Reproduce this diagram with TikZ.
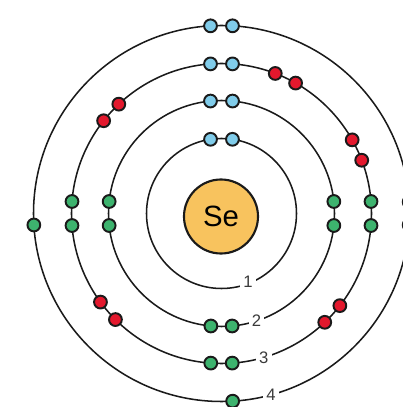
\documentclass[tikz,border=0pt]{standalone}
\usepackage{fontspec}
\setmainfont{Liberation Sans}
\definecolor{eblue}{HTML}{80CCEA}
\definecolor{egreen}{HTML}{3DB36E}
\definecolor{ered}{HTML}{E3182D}
\definecolor{nucl}{HTML}{F8C35E}
\definecolor{ink}{HTML}{1A1A1A}
\definecolor{lbl}{HTML}{3A3A3A}
\begin{document}
\begin{tikzpicture}[x=0.75pt,y=0.75pt,
  shell/.style={draw=ink, line width=1.15pt},
  electron/.style={circle, draw=ink, line width=1.45pt, minimum size=9.6pt, inner sep=0pt},
  nucleus/.style={circle, draw=ink, line width=1.6pt, fill=nucl, minimum size=55.5pt, inner sep=0pt, font=\fontsize{22}{24}\selectfont},
  shelllabel/.style={fill=white, text=lbl, inner sep=2.4pt, font=\fontsize{12.5}{14}\selectfont}]
\useasboundingbox (0,0) rectangle (403,407);
\clip (0,0) rectangle (403,407);
\fill[white] (0,0) rectangle (403,407);
\begin{scope}[shift={(221.5,193.5)}]
  \draw[shell] (0,0) circle[radius=75];
  \draw[shell] (0,0) circle[radius=113];
  \draw[shell] (0,0) circle[radius=150];
  \draw[shell] (0,0) circle[radius=188];
  \node[shelllabel] (l1) at (-68.8:73) {1};
  \node[shelllabel] (l2) at (-71.9:113) {2};
  \node[shelllabel] (l3) at (-73.6:150) {3};
  \node[shelllabel] (l4) at (-74.7:188) {4};
  \node[nucleus] (se) at (-0.5,-3) {Se};
  % shell 1
  \foreach \a/\c [count=\i] in {81.6/eblue, 98.4/eblue}
    \node[electron, fill=\c] (ea\i) at (\a:75) {};
  % shell 2
  \foreach \a/\c [count=\i] in {84.4/eblue, 95.6/eblue, 264.6/egreen, 275.4/egreen,
      173.9/egreen, 186.1/egreen, -6.1/egreen, 6.1/egreen}
    \node[electron, fill=\c] (eb\i) at (\a:113) {};
  % shell 3
  \foreach \a/\c [count=\i] in {85.8/eblue, 94.2/eblue, 265.9/egreen, 274.1/egreen,
      175.4/egreen, 184.6/egreen, -4.6/egreen, 4.6/egreen,
      133.2/ered, 141.8/ered, 60.4/ered, 69.0/ered, 20.8/ered, 29.4/ered,
      -46.5/ered, -37.9/ered, 216.2/ered, 225.0/ered}
    \node[electron, fill=\c] (ec\i) at (\a:150) {};
  % shell 4
  \foreach \a/\c [count=\i] in {86.65/eblue, 93.35/eblue, 183.5/egreen, 273.4/egreen,
      -3.5/egreen, 3.5/egreen}
    \node[electron, fill=\c] (ed\i) at (\a:188) {};
\end{scope}
\end{tikzpicture}
\end{document}
